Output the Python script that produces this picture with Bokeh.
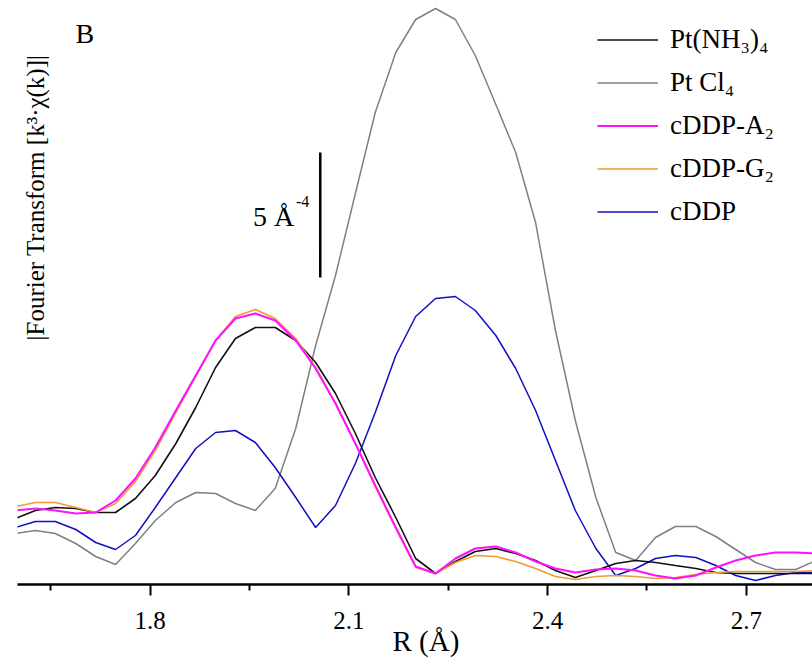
from bokeh.plotting import figure
from bokeh.models import Label, Legend, LegendItem, FixedTicker, Range1d
from bokeh.embed import file_html
from bokeh.resources import INLINE

# R grid (Å)
R = [1.597, 1.627, 1.657, 1.688, 1.718, 1.748, 1.778, 1.808, 1.839, 1.869,
     1.899, 1.929, 1.959, 1.989, 2.020, 2.050, 2.080, 2.110, 2.140, 2.171,
     2.201, 2.231, 2.261, 2.291, 2.322, 2.352, 2.382, 2.412, 2.442, 2.473,
     2.503, 2.533, 2.563, 2.593, 2.624, 2.654, 2.684, 2.714, 2.744, 2.775, 2.805]

pt_nh3 = [2.64, 2.96, 3.08, 3.04, 2.88, 2.88, 3.44, 4.36, 5.64, 7.08,
          8.68, 9.84, 10.28, 10.28, 9.76, 8.88, 7.64, 6.04, 4.28, 2.68,
          1.04, 0.44, 0.92, 1.32, 1.44, 1.24, 0.96, 0.56, 0.28, 0.56,
          0.84, 0.96, 0.88, 0.76, 0.64, 0.48, 0.44, 0.44, 0.44, 0.44, 0.44]

pt_cl4 = [2.04, 2.16, 2.04, 1.64, 1.12, 0.80, 1.64, 2.56, 3.28, 3.68,
          3.64, 3.24, 2.96, 3.84, 6.24, 9.56, 12.36, 15.64, 18.88, 21.28,
          22.60, 23.04, 22.60, 21.16, 19.20, 17.28, 14.48, 10.16, 6.56, 3.48,
          1.28, 0.96, 1.88, 2.32, 2.32, 1.92, 1.40, 0.88, 0.60, 0.60, 0.96]

cddp_a2 = [2.96, 3.04, 2.96, 2.84, 2.88, 3.36, 4.24, 5.48, 6.96, 8.36,
           9.76, 10.64, 10.84, 10.56, 9.76, 8.64, 7.24, 5.64, 3.96, 2.28,
           0.72, 0.44, 1.04, 1.44, 1.52, 1.28, 0.92, 0.64, 0.48, 0.60,
           0.64, 0.56, 0.36, 0.24, 0.36, 0.68, 0.96, 1.16, 1.28, 1.28, 1.24]

cddp_g2 = [3.12, 3.28, 3.28, 3.08, 2.88, 3.24, 4.12, 5.36, 6.88, 8.32,
           9.76, 10.72, 11.00, 10.64, 9.84, 8.68, 7.24, 5.64, 3.92, 2.24,
           0.68, 0.44, 0.88, 1.16, 1.12, 0.92, 0.64, 0.32, 0.20, 0.32,
           0.36, 0.32, 0.24, 0.28, 0.40, 0.48, 0.52, 0.52, 0.52, 0.52, 0.56]

cddp = [2.28, 2.52, 2.52, 2.20, 1.68, 1.40, 1.96, 3.08, 4.28, 5.44,
        6.08, 6.16, 5.68, 4.68, 3.48, 2.28, 3.16, 4.84, 6.88, 9.16,
        10.72, 11.44, 11.52, 10.96, 9.96, 8.64, 6.96, 4.96, 2.96, 1.44,
        0.36, 0.64, 1.04, 1.16, 1.08, 0.76, 0.36, 0.16, 0.36, 0.48, 0.48]

series_names = ["Pt(NH\u2083)\u2084", "Pt Cl\u2084", "cDDP-A\u2082", "cDDP-G\u2082", "cDDP"]
major_ticks = [1.8, 2.1, 2.4, 2.7]
minor_ticks = [1.65, 1.95, 2.25, 2.55]
scale_bar_value = 5          # Å^-4
scale_bar_R = 2.057
scale_bar_base = 12.28

FONT = "Liberation Serif"

p = figure(width=812, height=663, output_backend="svg", toolbar_location=None,
           x_range=Range1d(1.6, 2.8), y_range=Range1d(0, 23.36),
           y_axis_location=None,
           min_border_left=17, min_border_right=0, min_border_top=0,
           min_border_bottom=79)
p.outline_line_color = None
p.xgrid.visible = False
p.ygrid.visible = False
p.background_fill_color = "white"
p.border_fill_color = "white"

ax = p.xaxis[0]
ax.ticker = FixedTicker(ticks=major_ticks, minor_ticks=minor_ticks)
ax.axis_line_width = 2.5
ax.axis_line_color = "black"
ax.major_tick_line_width = 2
ax.major_tick_out = 11
ax.major_tick_in = 0
ax.minor_tick_line_width = 2
ax.minor_tick_out = 6
ax.minor_tick_in = 0
ax.major_label_text_font = FONT
ax.major_label_text_font_size = "25px"
ax.major_label_text_color = "black"
ax.major_label_standoff = 16
ax.axis_label = "\u00a0\u00a0\u00a0R (\u00c5)"
ax.axis_label_text_font = FONT
ax.axis_label_text_font_size = "29px"
ax.axis_label_text_font_style = "normal"
ax.axis_label_text_color = "black"
ax.axis_label_standoff = -7

styles = [
    (pt_cl4, "#808080", 1.5),
    (cddp, "#1010c0", 1.5),
    (pt_nh3, "#111111", 1.6),
    (cddp_g2, "#f29a30", 1.6),
    (cddp_a2, "#ff10ff", 2.0),
]
rend = {}
for ys, col, lw in styles:
    rend[id(ys)] = p.line(R, ys, line_color=col, line_width=lw)

legend_order = [pt_nh3, pt_cl4, cddp_a2, cddp_g2, cddp]
items = [LegendItem(label=name, renderers=[rend[id(s)]]) for name, s in zip(series_names, legend_order)]
legend = Legend(items=items, location=(580, 351), orientation="vertical",
                background_fill_alpha=0, border_line_color=None,
                padding=0, margin=0, spacing=0,
                glyph_width=61, glyph_height=43, label_height=43,
                label_standoff=12, label_text_font=FONT,
                label_text_font_size="27px", label_text_color="black")
p.add_layout(legend)

# scale bar
p.segment(x0=[scale_bar_R], y0=[scale_bar_base], x1=[scale_bar_R],
          y1=[scale_bar_base + scale_bar_value], line_color="black", line_width=2.5)
p.add_layout(Label(x=scale_bar_R, y=scale_bar_base + 2.44, text="5 \u00c5",
                   text_align="right", text_baseline="alphabetic",
                   text_font=FONT, text_font_size="28px", text_color="black",
                   x_offset=-26))
p.add_layout(Label(x=scale_bar_R, y=scale_bar_base + 3.05, text="-4",
                   text_align="right", text_baseline="alphabetic",
                   text_font=FONT, text_font_size="16px", text_color="black",
                   x_offset=-11))

# panel letter
p.add_layout(Label(x=1.6875, y=22.04, text="B", text_align="left",
                   text_baseline="alphabetic", text_font=FONT,
                   text_font_size="28px", text_color="black"))

# y axis title (no y axis drawn)
p.add_layout(Label(x=1.627, y=15.48, text="|Fourier Transform [k\u00b3\u00b7\u03c7(k)]|",
                   angle=1.5707963, angle_units="rad", text_align="center",
                   text_baseline="middle", text_font=FONT,
                   text_font_size="25px", text_color="black"))

open("out.html", "w").write(file_html(p, INLINE))
